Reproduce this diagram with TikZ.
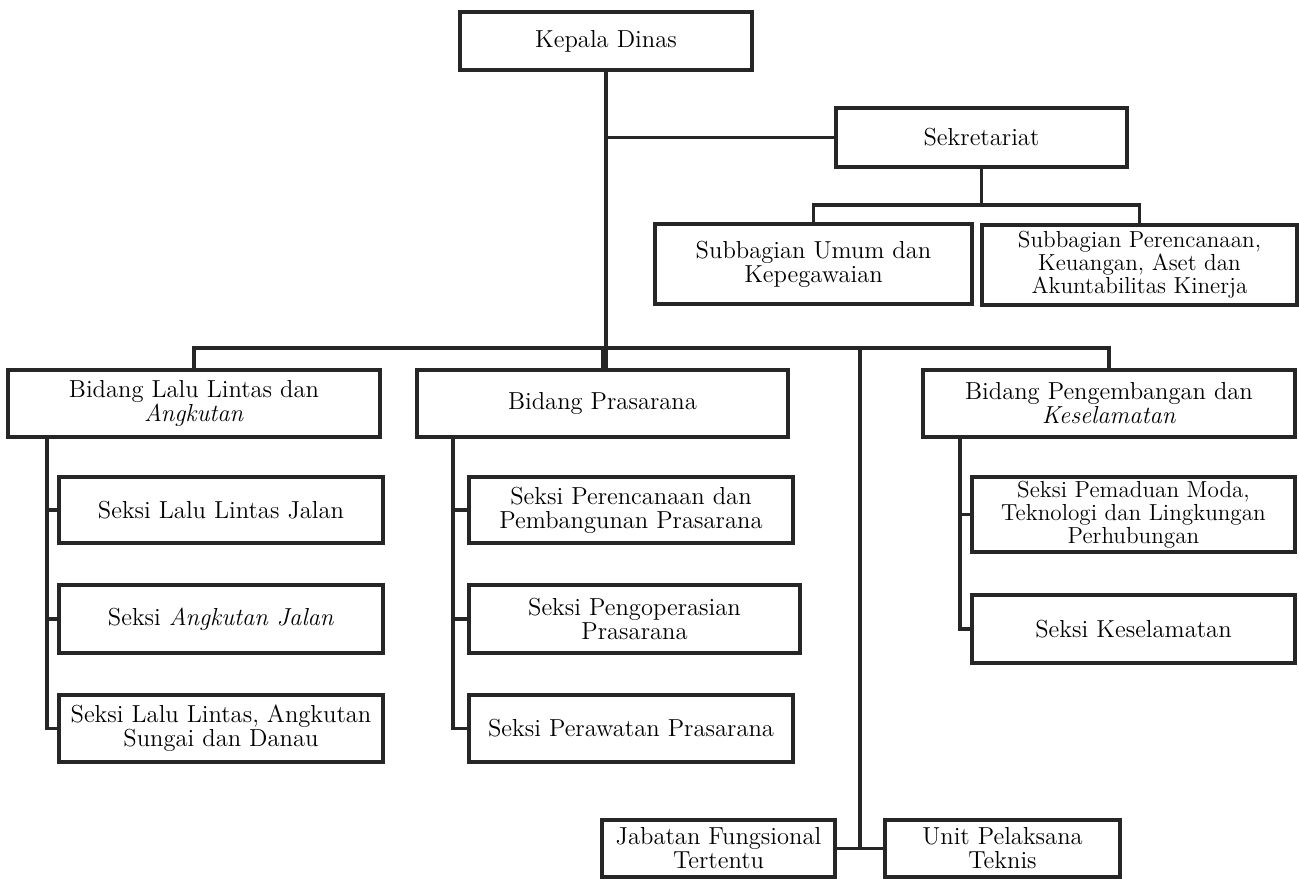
\documentclass[tikz,border=0pt]{standalone}
\usepackage{tikz}
\usetikzlibrary{positioning,calc}

\begin{document}
\begin{tikzpicture}[x=0.02cm,y=-0.02cm,
  kotak/.style={draw=black!85,line width=2pt,fill=white,inner sep=0pt,align=center,
    font=\fontsize{14}{13.6}\selectfont},
  tigabaris/.style={font=\fontsize{13.2}{13.2}\selectfont},
  ukuran/.style 2 args={minimum width=#1*0.02cm,minimum height=#2*0.02cm},
  garis/.style={draw=black!85,line width=2pt}]
\useasboundingbox (0,0) rectangle (1299,879);
%Pimpinan und Sekretariat
\node[kotak,ukuran={292}{58}] (kepala) at (606,41) {Kepala Dinas};
\node[kotak,ukuran={291}{59}] (sekr) at (981.5,137.5) {Sekretariat};
\node[kotak,ukuran={317}{80}] (subumum) at (813.5,264) {Subbagian Umum dan\\Kepegawaian};
\node[kotak,tigabaris,ukuran={315}{80}] (subper) at (1139.5,265) {Subbagian Perencanaan,\\Keuangan, Aset dan\\Akuntabilitas Kinerja};
%Bidang
\node[kotak,ukuran={372}{67}] (bidlla) at (194,403.5) {Bidang Lalu Lintas dan\\\textit{Angkutan}};
\node[kotak,ukuran={371}{67}] (bidpra) at (602.5,403.5) {Bidang Prasarana};
\node[kotak,ukuran={372}{67}] (bidpeng) at (1109,403.5) {Bidang Pengembangan dan\\\textit{Keselamatan}};
%Seksi
\node[kotak,ukuran={324}{66}] (lla1) at (221,510) {Seksi Lalu Lintas Jalan};
\node[kotak,ukuran={324}{68}] (lla2) at (221,619) {Seksi \textit{Angkutan Jalan}};
\node[kotak,ukuran={324}{67}] (lla3) at (221,728.5) {Seksi Lalu Lintas, Angkutan\\Sungai dan Danau};
\node[kotak,ukuran={324}{66}] (pra1) at (631,510) {Seksi Perencanaan dan\\Pembangunan Prasarana};
\node[kotak,ukuran={331}{68}] (pra2) at (634.5,619) {Seksi Pengoperasian\\Prasarana};
\node[kotak,ukuran={324}{67}] (pra3) at (631,728.5) {Seksi Perawatan Prasarana};
\node[kotak,tigabaris,ukuran={323}{75}] (peng1) at (1133.5,514.5) {Seksi Pemaduan Moda,\\Teknologi dan Lingkungan\\Perhubungan};
\node[kotak,ukuran={323}{68}] (peng2) at (1133.5,629) {Seksi Keselamatan};
%Fungsional und UPT
\node[kotak,ukuran={233}{57}] (jab) at (718.5,848.5) {Jabatan Fungsional\\Tertentu};
\node[kotak,ukuran={235}{57}] (upt) at (1002.5,848.5) {Unit Pelaksana\\Teknis};

\coordinate (bus) at (0,348);
\coordinate (sbus) at (0,205);
\coordinate (fung) at (860,348);
\draw[garis] (kepala.south) -- (kepala.south |- bidpra.north);
\draw[garis] (kepala.south |- sekr.west) -- (sekr.west);
\draw[garis] (sekr.south) -- (sekr.south |- sbus);
\draw[garis] (subumum.north) -- (subumum.north |- sbus) -- (subper.north |- sbus) -- (subper.north);
\draw[garis] (bidlla.north) -- (bidlla.north |- bus) -- (bidpeng.north |- bus) -- (bidpeng.north);
\draw[garis] (bidpra.north) -- (bidpra.north |- bus);
\draw[garis] (fung) -- (fung |- jab.east);
\draw[garis] (jab.east) -- (upt.west);
%Seksi-Linien
\draw[garis] (bidlla.south -| 47,0) |- (lla3.west);
\draw[garis] (bidpra.south -| 453,0) |- (pra3.west);
\draw[garis] (bidpeng.south -| 960,0) |- (peng2.west);
\foreach \s/\x in {lla1/47,lla2/47,pra1/453,pra2/453,peng1/960}{
  \draw[garis] (\s.west) -- (\s.west -| \x,0);
}
\end{tikzpicture}
\end{document}
